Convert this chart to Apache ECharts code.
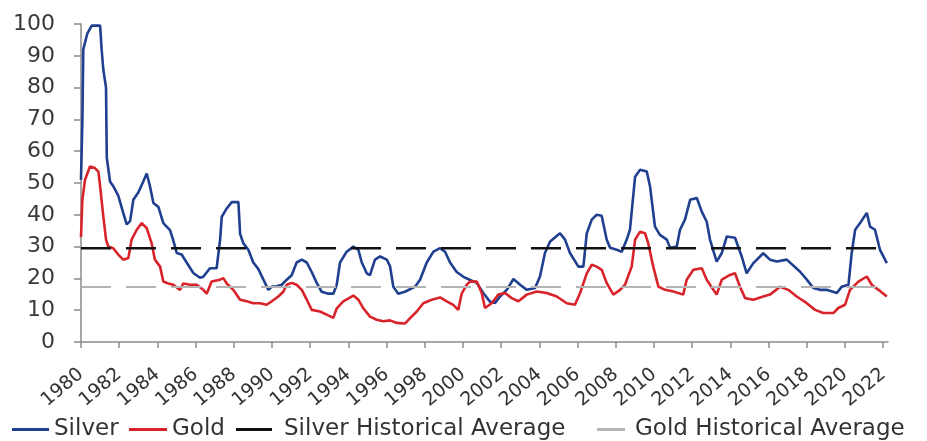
<!DOCTYPE html>
<html>
<head>
<meta charset="utf-8">
<script src="https://cdn.jsdelivr.net/npm/echarts@6/dist/echarts.min.js"></script>
<style>
html,body{margin:0;padding:0;background:#fff;}
#chart{width:927px;height:441px;}
</style>
</head>
<body>
<div id="chart"></div>
<script>
// ---- Data (decimal year, volatility %) ----
var silverYears = [1980.00,1980.07,1980.12,1980.33,1980.56,1981.00,1981.08,1981.17,1981.31,1981.35,1981.52,1981.69,1981.95,1982.21,1982.39,1982.57,1982.74,1983.00,1983.26,1983.44,1983.61,1983.79,1984.05,1984.31,1984.66,1984.83,1985.01,1985.27,1985.53,1985.88,1986.23,1986.40,1986.75,1987.10,1987.28,1987.37,1987.63,1987.89,1988.24,1988.33,1988.50,1988.76,1989.02,1989.28,1989.55,1989.81,1989.99,1990.25,1990.51,1990.77,1991.03,1991.29,1991.56,1991.82,1992.08,1992.34,1992.60,1992.95,1993.21,1993.39,1993.56,1993.91,1994.26,1994.52,1994.70,1994.96,1995.13,1995.39,1995.66,1996.01,1996.18,1996.35,1996.61,1996.96,1997.49,1997.75,1998.10,1998.45,1998.80,1999.06,1999.32,1999.67,2000.02,2000.37,2000.72,2001.06,2001.41,2001.68,2001.94,2002.29,2002.64,2002.99,2003.34,2003.77,2004.03,2004.29,2004.56,2005.08,2005.34,2005.60,2006.04,2006.30,2006.48,2006.74,2007.00,2007.26,2007.52,2007.70,2008.05,2008.31,2008.57,2008.74,2009.01,2009.27,2009.62,2009.79,2010.05,2010.31,2010.67,2010.84,2011.19,2011.36,2011.62,2011.89,2012.24,2012.50,2012.76,2012.93,2013.28,2013.55,2013.81,2014.24,2014.59,2014.85,2015.20,2015.72,2016.07,2016.43,2016.95,2017.65,2018.00,2018.34,2018.69,2019.04,2019.57,2019.83,2020.18,2020.35,2020.53,2020.79,2021.14,2021.31,2021.57,2021.83,2022.19];
var silverValues = [51,69,92,97,99.5,99.5,92,85.6,80,58,50.5,49,46,40.6,37,38,44.7,47,50.5,53,49,43.7,42.5,37.4,35.2,32,28,27.5,25,21.7,20.2,20.5,23.2,23.2,32,39.4,42,44,44,34,31,29,25,23,19.6,16.4,17.4,17.5,18,19.6,21,25,25.9,25,22,18.6,15.8,15.2,15.2,18,25,28.4,30,29,25,21.6,21,25.9,26.9,25.9,23.8,17.4,15.2,15.8,17.4,19.6,25,28.4,29.5,28.4,25,22,20.5,19.5,18.6,15.4,12.7,12.3,14.3,16.4,19.8,18,16.4,17,20.6,28,31.6,34.2,32.2,28,23.7,23.7,34.2,38.5,40,39.7,32.2,29.6,29,28.4,32.2,35.3,52,54.2,53.6,49,36.3,33.7,32.2,29.6,30,35.3,38.5,44.7,45.3,41,37.8,32.2,25.3,28,33.2,32.8,26.9,21.6,24.8,27.9,25.9,25.3,25.9,22.1,19.6,17,16.4,16.4,15.4,17.4,18,28,35.3,37.4,40.6,36.3,35.3,29,24.8];

var goldYears = [1980.00,1980.07,1980.21,1980.47,1980.73,1980.91,1981.00,1981.17,1981.31,1981.43,1981.69,1981.95,1982.21,1982.48,1982.65,1982.92,1983.18,1983.44,1983.70,1983.87,1984.14,1984.31,1984.57,1984.83,1985.18,1985.36,1985.71,1986.06,1986.40,1986.58,1986.84,1987.28,1987.45,1987.63,1987.97,1988.33,1988.68,1989.02,1989.37,1989.72,1989.99,1990.33,1990.59,1990.77,1991.03,1991.29,1991.56,1991.82,1992.08,1992.51,1992.86,1993.21,1993.39,1993.73,1994.26,1994.52,1994.78,1995.13,1995.48,1995.83,1996.18,1996.53,1996.96,1997.23,1997.58,1997.92,1998.36,1998.80,1999.15,1999.49,1999.75,1999.93,2000.19,2000.37,2000.72,2000.98,2001.15,2001.50,2001.85,2002.20,2002.55,2002.90,2003.34,2003.86,2004.38,2004.91,2005.43,2005.86,2006.13,2006.48,2006.74,2007.00,2007.26,2007.52,2007.87,2008.22,2008.48,2008.83,2009.01,2009.27,2009.53,2009.70,2009.96,2010.23,2010.58,2011.01,2011.53,2011.71,2012.06,2012.50,2012.76,2013.11,2013.28,2013.55,2013.98,2014.24,2014.50,2014.77,2015.20,2015.72,2016.07,2016.60,2017.03,2017.47,2018.00,2018.43,2018.86,2019.39,2019.65,2020.00,2020.26,2020.70,2021.14,2021.40,2021.75,2022.19];
var goldValues = [33,44.7,51,55.2,54.7,53.6,49,39.4,32.2,30,29.5,27.5,25.9,26.4,32.2,35.3,37.4,35.8,31,25.9,23.7,19,18.4,18,16.4,18.4,18,18,16.4,15.2,19,19.6,20.1,18.4,16.4,13.3,12.8,12.2,12.2,11.7,12.8,14.3,15.8,18,18.6,18,16.4,13.3,10.1,9.6,8.6,7.6,10.6,12.8,14.6,13.3,10.6,8,7,6.5,6.8,6,5.8,7.5,9.6,12.2,13.3,14,12.8,11.7,10.1,15.2,18,19,19,15.4,10.7,12.2,14.9,15.4,13.8,12.8,14.9,15.9,15.4,14.3,12.2,11.7,15.4,21.6,24.3,23.7,22.7,18.6,14.9,16.4,18,23.7,32.2,34.7,34.2,31,23.7,17.4,16.4,15.9,14.9,19.6,22.7,23.2,19.6,16.4,14.9,19.6,21.1,21.6,17.4,13.8,13.3,14.3,14.9,17.4,16.4,14.3,12.2,10.1,9.1,9.1,10.7,11.7,16.4,19,20.6,18,16.4,14.3];

var silverAverage = 29.5;
var goldAverage = 17.3;
var averageSpan = [1980, 2022.25];
var xTickYears = [1980,1982,1984,1986,1988,1990,1992,1994,1996,1998,2000,2002,2004,2006,2008,2010,2012,2014,2016,2018,2020,2022];
var seriesNames = ['Silver','Gold','Silver Historical Average','Gold Historical Average'];
var seriesColors = ['#1f3f8f','#d9232a','#111111','#b4b4b4'];

function zip(xs, ys){ return xs.map(function(x,i){ return [x, ys[i]]; }); }

var chart = echarts.init(document.getElementById('chart'), null, {renderer:'canvas'});
var FONT = 'DejaVu Sans';
var legendLefts = [12, 129, 236, 597];
var legendWidths = [37, 38, 36, 28];
var legendPads = [0, 0, 7, 5];
var legends = seriesNames.map(function(n, i){
  return {
    left:legendLefts[i], top:418, padding:0,
    itemWidth:legendWidths[i], itemHeight:3,
    textStyle:{fontFamily:FONT, fontSize:23, color:'#333', padding:[0,0,0,legendPads[i]]},
    data:[{name:n, icon:'rect', itemStyle:{color:seriesColors[i]}}]
  };
});

var option = {
  animation:false,
  backgroundColor:'#ffffff',
  grid:{left:81, right:39, top:24, bottom:99, containLabel:false},
  legend:legends,
  xAxis:{
    type:'value', min:averageSpan[0], max:averageSpan[1],
    splitLine:{show:false},
    axisLine:{lineStyle:{color:'#8a8a8a', width:1.5}},
    axisTick:{show:true, length:6, lineStyle:{color:'#8a8a8a', width:1.5}, customValues:xTickYears},
    axisLabel:{rotate:40, margin:30, fontFamily:FONT, fontSize:19, color:'#333', customValues:xTickYears,
      formatter:function(v){ return String(Math.round(v)); }}
  },
  yAxis:{
    type:'value', min:0, max:100, interval:10,
    splitLine:{show:false},
    axisLine:{show:true, lineStyle:{color:'#8a8a8a', width:1.5}},
    axisTick:{show:true, length:7, lineStyle:{color:'#8a8a8a', width:1.5}},
    axisLabel:{margin:26, fontFamily:FONT, fontSize:22, color:'#3a3a3a'}
  },
  series:[
    {name:seriesNames[0], type:'line', showSymbol:false, data:zip(silverYears, silverValues),
      lineStyle:{color:seriesColors[0], width:2.6}, itemStyle:{color:seriesColors[0]}},
    {name:seriesNames[1], type:'line', showSymbol:false, data:zip(goldYears, goldValues),
      lineStyle:{color:seriesColors[1], width:2.6}, itemStyle:{color:seriesColors[1]}},
    {name:seriesNames[2], type:'line', showSymbol:false,
      data:averageSpan.map(function(x){ return [x, silverAverage]; }),
      lineStyle:{color:seriesColors[2], width:2.5, type:[30,15]}, itemStyle:{color:seriesColors[2]}},
    {name:seriesNames[3], type:'line', showSymbol:false,
      data:averageSpan.map(function(x){ return [x, goldAverage]; }),
      lineStyle:{color:seriesColors[3], width:2, type:[30,15]}, itemStyle:{color:seriesColors[3]}}
  ]
};
chart.setOption(option);
</script>
</body>
</html>
